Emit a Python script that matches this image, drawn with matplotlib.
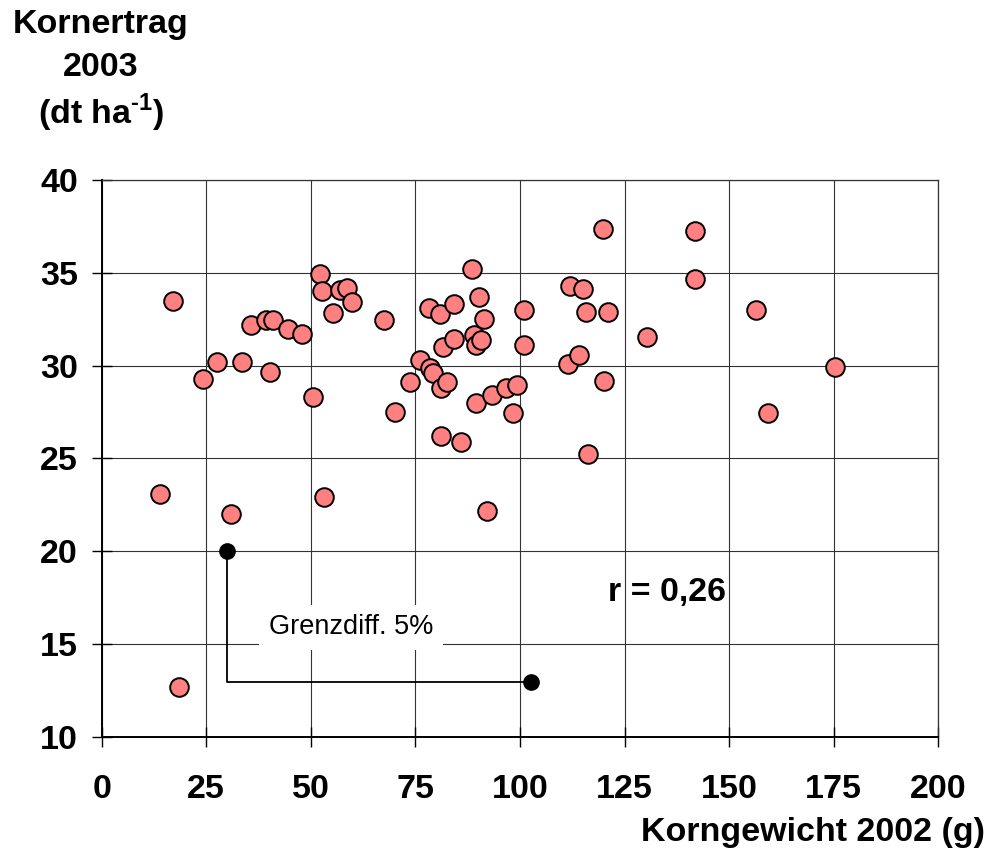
import matplotlib
matplotlib.use("Agg")
import matplotlib.pyplot as plt

plt.rcParams['font.family'] = ['Liberation Sans', 'DejaVu Sans']
plt.rcParams['mathtext.fontset'] = 'custom'
plt.rcParams['mathtext.rm'] = 'Liberation Sans'
plt.rcParams['mathtext.bf'] = 'Liberation Sans:bold'

# Data
korngewicht_2002 = [13.9, 17.0, 18.6, 24.2, 27.5, 31.0, 33.5, 35.6, 39.4, 40.9,
                    40.3, 44.6, 48.0, 50.5, 52.3, 52.7, 53.1, 55.3, 56.9, 58.6,
                    59.9, 67.6, 70.2, 73.6, 76.2, 78.3, 78.6, 79.2, 80.8, 81.2,
                    81.2, 81.7, 82.6, 84.2, 84.3, 85.9, 88.6, 89.0, 89.4, 89.4,
                    90.2, 90.6, 91.5, 92.0, 93.3, 96.6, 98.4, 99.3, 100.9, 100.9,
                    111.5, 112.0, 114.2, 115.0, 115.9, 116.3, 119.8, 120.2, 121.0, 130.3,
                    141.9, 141.9, 156.4, 159.4, 175.2]
kornertrag_2003 = [23.1, 33.5, 12.7, 29.3, 30.2, 22.0, 30.2, 32.2, 32.45, 32.45,
                   29.65, 31.95, 31.7, 28.3, 34.95, 34.0, 22.9, 32.85, 34.1, 34.2,
                   33.4, 32.45, 27.5, 29.1, 30.3, 33.1, 29.85, 29.6, 32.8, 28.8,
                   26.2, 31.0, 29.1, 31.45, 33.3, 25.9, 35.2, 31.65, 31.1, 28.0,
                   33.7, 31.4, 32.5, 22.15, 28.4, 28.8, 27.45, 28.95, 33.0, 31.1,
                   30.1, 34.3, 30.55, 34.15, 32.9, 25.25, 37.35, 29.15, 32.9, 31.55,
                   37.25, 34.65, 33.0, 27.45, 29.95]

grenzdiff_x = [30, 30, 102.7]
grenzdiff_y = [20, 12.95, 12.95]

x_ticks = [0, 25, 50, 75, 100, 125, 150, 175, 200]
y_ticks = [10, 15, 20, 25, 30, 35, 40]

FS = 24.5

fig = plt.figure(figsize=(9.88, 8.5), dpi=100)
ax = fig.add_axes([0.1029, 0.1333, 0.9497 - 0.1029, 0.7882 - 0.1333])

ax.set_xlim(0, 200)
ax.set_ylim(10, 40)
ax.set_xticks(x_ticks)
ax.set_yticks(y_ticks)
ax.grid(True, color='#333333', linewidth=0.8, zorder=0)
ax.set_axisbelow(True)

for side in ['top', 'right']:
    ax.spines[side].set_color('#333333')
    ax.spines[side].set_linewidth(0.9)
for side in ['left', 'bottom']:
    ax.spines[side].set_color('black')
    ax.spines[side].set_linewidth(1.4)

ax.tick_params(axis='both', direction='inout', length=14.4, width=1.0,
               labelsize=FS, colors='black')
ax.tick_params(axis='x', pad=20)
ax.tick_params(axis='y', pad=10)
for lbl in ax.get_xticklabels() + ax.get_yticklabels():
    lbl.set_fontweight('bold')

ax.scatter(korngewicht_2002, kornertrag_2003, s=180, facecolor='#FF8080',
           edgecolor='black', linewidth=1.4, zorder=3)

ax.plot(grenzdiff_x, grenzdiff_y, color='black', linewidth=1.3, zorder=3)
ax.plot([grenzdiff_x[0], grenzdiff_x[-1]], [grenzdiff_y[0], grenzdiff_y[-1]],
        linestyle='none', marker='o', markersize=11, color='black', zorder=4)

ax.text(59.6, 15.9, 'Grenzdiff. 5%', fontsize=19.5, ha='center', va='center',
        bbox=dict(boxstyle='square,pad=0.35', facecolor='white', edgecolor='none'),
        zorder=2)

ax.text(121.0, 17.77, 'r = 0,26', fontsize=FS, fontweight='bold',
        ha='left', va='center', zorder=5)

fig.text(101 / 988, 1 - 25 / 850, 'Kornertrag', fontsize=FS, fontweight='bold',
         ha='center', va='center')
fig.text(101 / 988, 1 - 68 / 850, '2003', fontsize=FS, fontweight='bold',
         ha='center', va='center')
fig.text(101 / 988, 1 - 113 / 850, '(dt ha$^{\\mathbf{\u2010}\\mathbf{1}}$)', fontsize=FS,
         fontweight='bold', ha='center', va='center')

fig.text(985 / 988, 1 - 833 / 850, 'Korngewicht 2002 (g)', fontsize=FS,
         fontweight='bold', ha='right', va='center')

fig.savefig('out.png', dpi=100)
